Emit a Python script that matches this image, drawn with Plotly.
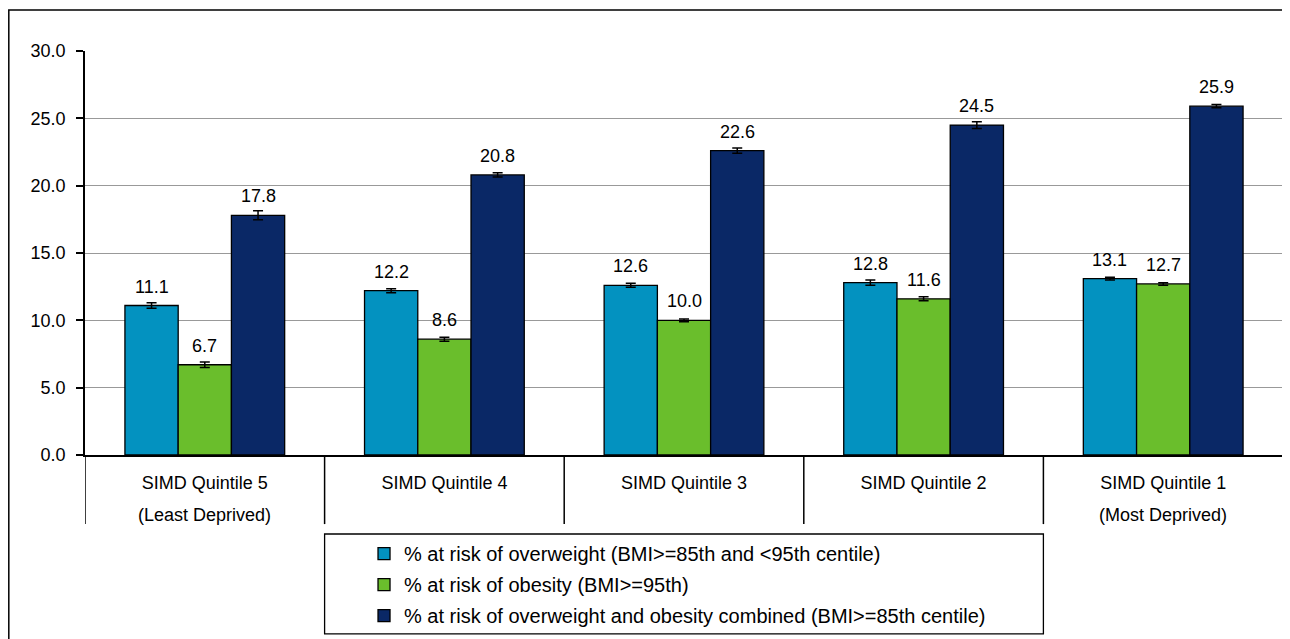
import plotly.graph_objects as go

categories = ["SIMD Quintile 5", "SIMD Quintile 4", "SIMD Quintile 3", "SIMD Quintile 2", "SIMD Quintile 1"]
sub_labels = ["(Least Deprived)", "", "", "", "(Most Deprived)"]

series_names = [
    "% at risk of overweight (BMI>=85th and <95th centile)",
    "% at risk of obesity (BMI>=95th)",
    "% at risk of overweight and obesity combined (BMI>=85th centile)",
]
overweight = [11.1, 12.2, 12.6, 12.8, 13.1]
obesity = [6.7, 8.6, 10.0, 11.6, 12.7]
combined = [17.8, 20.8, 22.6, 24.5, 25.9]

overweight_err = [0.2, 0.15, 0.15, 0.2, 0.1]
obesity_err = [0.2, 0.15, 0.1, 0.15, 0.1]
combined_err = [0.33, 0.15, 0.2, 0.25, 0.12]

y_ticks = [0, 5, 10, 15, 20, 25, 30]

colors = ["#0392C0", "#6ABE2C", "#0A2866"]
FONT = "Liberation Sans, Arial, sans-serif"

series = [overweight, obesity, combined]
errors = [overweight_err, obesity_err, combined_err]

fig = go.Figure()
for i, (name, vals, errs, col) in enumerate(zip(series_names, series, errors, colors)):
    fig.add_trace(go.Bar(
        x=list(range(len(categories))),
        y=vals,
        name=name,
        legendgroup=f"g{i}",
        marker=dict(color=col, line=dict(color="black", width=1.3)),
        error_y=dict(type="data", array=errs, visible=True, color="black", thickness=1.5, width=5),
    ))

# data labels
bargap = 1 / 3
bw = (1 - bargap) / 3
annotations = []
for i, vals in enumerate(series):
    off = (i - 1) * bw
    for j, v in enumerate(vals):
        annotations.append(dict(
            x=j + off, y=v, xref="x", yref="y", text=f"{v:.1f}", showarrow=False,
            yanchor="middle", yshift=19, font=dict(family=FONT, size=18, color="black"),
        ))

# second line of category labels
for j, s in enumerate(sub_labels):
    if s:
        annotations.append(dict(
            x=j, y=-0.1485, xref="x", yref="paper", text=s, showarrow=False,
            yanchor="middle", font=dict(family=FONT, size=18, color="black"),
        ))

shapes = []
# category dividers below axis
for j in range(len(categories)):
    shapes.append(dict(type="line", xref="x", yref="paper", x0=j - 0.5, x1=j - 0.5,
                       y0=0, y1=-0.171, line=dict(color="black", width=1.5)))
# right border of plot area
shapes.append(dict(type="line", xref="paper", yref="paper", x0=1, x1=1, y0=0, y1=1,
                   line=dict(color="#999999", width=1.5)))
# legend box
shapes.append(dict(type="rect", xref="x", yref="paper", x0=0.5, x1=3.5, y0=-0.443, y1=-0.1955,
                   line=dict(color="black", width=1.3), fillcolor="rgba(0,0,0,0)"))
# outer chart frame
shapes.append(dict(type="rect", xref="paper", yref="paper", x0=-0.0636, x1=1.2, y0=-0.7, y1=1.1015,
                   line=dict(color="black", width=1.5), fillcolor="rgba(0,0,0,0)", layer="below"))

fig.update_layout(
    width=1282, height=631,
    margin=dict(l=77, r=7, t=43, b=184, autoexpand=False),
    paper_bgcolor="white", plot_bgcolor="white",
    barmode="group", bargap=bargap, bargroupgap=0,
    font=dict(family=FONT, size=18, color="black"),
    showlegend=True,
    legend=dict(x=0.2329, y=-0.196, xanchor="left", yanchor="top", orientation="v",
                font=dict(family=FONT, size=20, color="black"),
                bgcolor="rgba(0,0,0,0)", borderwidth=0, tracegroupgap=2),
    annotations=annotations,
    shapes=shapes,
    xaxis=dict(
        tickmode="array", tickvals=list(range(len(categories))), ticktext=categories,
        range=[-0.5, 4.5], showgrid=False, showline=True, linecolor="black", linewidth=1.5,
        ticks="", ticklabelstandoff=11, tickfont=dict(family=FONT, size=18, color="black"),
        zeroline=False, fixedrange=True, automargin=False,
    ),
    yaxis=dict(
        range=[0, 30], tickvals=y_ticks, tickformat=".1f", showgrid=True, gridcolor="#999999",
        gridwidth=1.2, showline=True, linecolor="black", linewidth=1.5, ticks="outside",
        ticklen=7, tickcolor="black", tickwidth=1.5, zeroline=False, ticklabelstandoff=7,
        tickfont=dict(family=FONT, size=18, color="black"), automargin=False,
    ),
)

fig.write_html("out.html")
